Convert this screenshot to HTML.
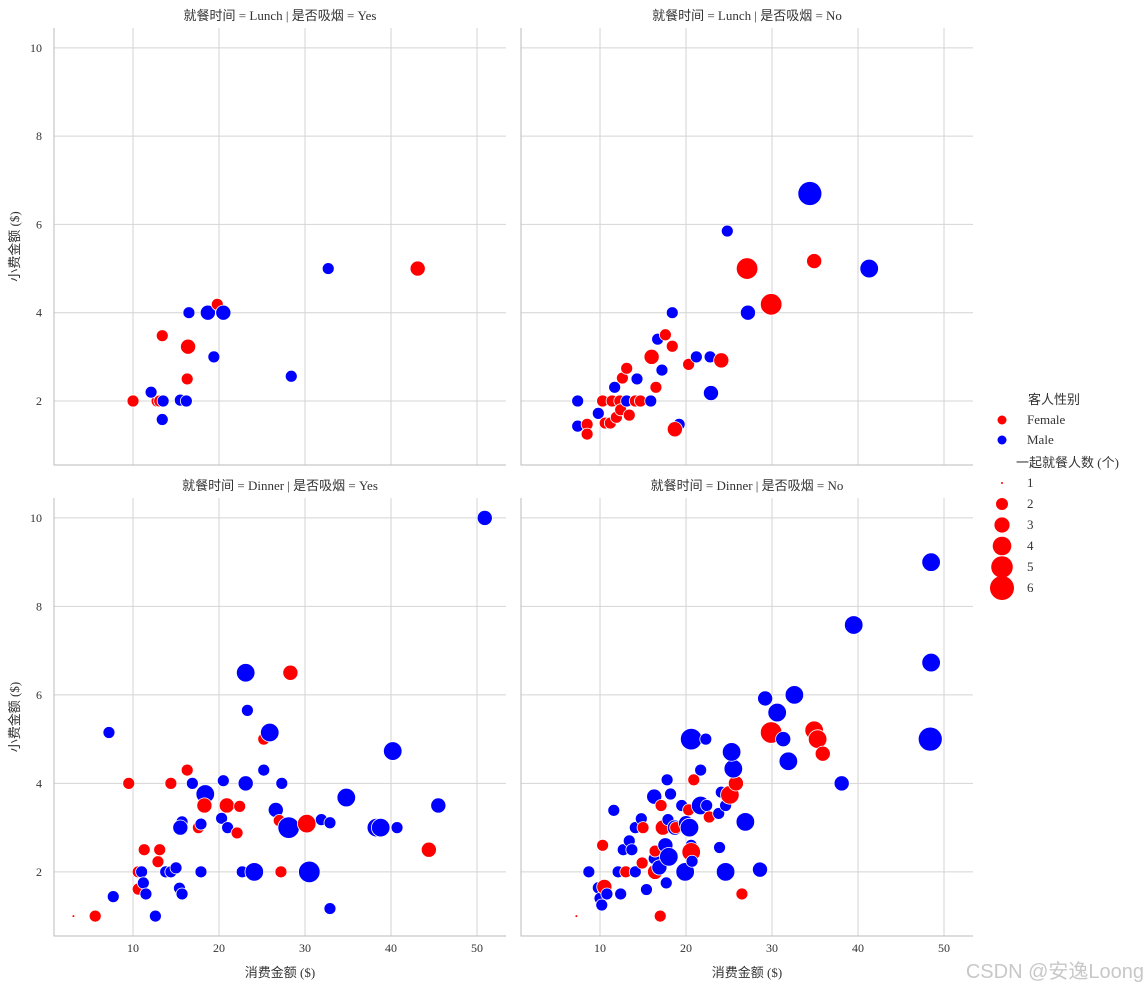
<!DOCTYPE html>
<html><head><meta charset="utf-8"><style>
body{margin:0;background:#fff;}
svg{display:block;font-family:"Liberation Serif","Noto Sans CJK SC",serif;}
.tick{font-size:12px;fill:#333;}
.lab{font-size:13px;fill:#333;}
</style></head><body>
<svg id="chart" width="1148" height="990" viewBox="0 0 1148 990"></svg>
<script>
const xTicks=[10,20,30,40,50];
const yTicks=[2,4,6,8,10];
const sizeLevels=[1,2,3,4,5,6];
const sexLabels=['Female','Male'];
// panel data: bill, tip, size, sex(0=F,1=M)
const lunchYesBill=[10.0,12.8,13.1,13.5,13.4,12.1,13.4,15.5,16.2,16.3,16.4,16.5,18.7,19.8,20.5,19.4,28.4,32.7,43.1];
const lunchYesTip=[2.0,2.0,2.0,2.0,3.48,2.2,1.58,2.02,2.0,2.5,3.23,4.0,4.0,4.19,4.0,3.0,2.56,5.0,5.0];
const lunchYesSize=[2,2,2,2,2,2,2,2,2,2,3,2,3,2,3,2,2,2,3];
const lunchYesSex=[0,0,0,1,0,1,1,1,1,0,0,1,1,0,1,1,1,1,0];
const lunchNoBill=[7.4,7.4,8.5,8.5,9.8,10.3,10.6,11.2,11.4,11.7,11.9,12.3,12.4,12.6,13.1,13.1,13.4,14.3,14.1,14.7,15.9,16.0,16.5,16.7,17.2,17.6,18.4,18.4,19.2,18.7,20.3,21.2,22.8,24.1,22.9,24.8,27.2,27.1,29.9,34.9,34.4,41.3];
const lunchNoTip=[2.0,1.43,1.47,1.25,1.72,2.0,1.5,1.5,2.0,2.31,1.63,2.0,1.8,2.52,2.74,2.0,1.68,2.5,2.0,2.0,2.0,3.0,2.31,3.4,2.7,3.5,3.24,4.0,1.47,1.36,2.83,3.0,3.0,2.92,2.18,5.85,4.0,5.0,4.19,5.17,6.7,5.0];
const lunchNoSize=[2,2,2,2,2,2,2,2,2,2,2,2,2,2,2,2,2,2,2,2,2,3,2,2,2,2,2,2,2,3,2,2,2,3,3,2,3,5,5,3,6,4];
const lunchNoSex=[1,1,0,0,1,0,0,0,0,1,0,0,0,0,0,1,0,1,0,0,1,0,0,1,1,0,0,1,1,0,0,1,1,0,1,1,1,0,0,0,1,1];
const dinnerYesBill=[3.07,5.6,7.2,7.7,9.5,10.6,10.6,11.0,11.2,11.5,11.3,12.9,13.1,12.6,13.8,14.4,15.0,15.4,15.7,15.7,15.5,14.4,16.3,16.9,17.6,17.9,17.9,18.4,18.3,20.3,20.5,21.0,20.9,22.1,22.4,22.7,23.1,23.3,24.1,23.1,25.2,25.2,25.9,26.6,27.0,27.3,27.2,28.3,28.1,30.2,30.5,31.9,32.9,32.9,34.8,38.3,38.8,40.2,40.7,45.5,44.4,50.9];
const dinnerYesTip=[1.0,1.0,5.15,1.44,4.0,2.0,1.61,2.0,1.75,1.5,2.5,2.23,2.5,1.0,2.0,2.0,2.09,1.63,1.5,3.13,3.0,4.0,4.3,4.0,3.0,3.08,2.0,3.76,3.5,3.21,4.06,3.0,3.5,2.88,3.48,2.0,6.5,5.65,2.0,4.0,5.0,4.3,5.15,3.4,3.16,4.0,2.0,6.5,3.0,3.09,2.0,3.18,3.11,1.17,3.68,3.0,3.0,4.73,3.0,3.5,2.5,10.0];
const dinnerYesSize=[1,2,2,2,2,2,2,2,2,2,2,2,2,2,2,2,2,2,2,2,3,2,2,2,2,2,2,4,3,2,2,2,3,2,2,2,4,2,4,3,2,2,4,3,2,2,2,3,5,4,5,2,2,2,4,4,4,4,2,3,3,3];
const dinnerYesSex=[0,0,1,1,0,0,0,1,1,1,0,0,0,1,1,1,1,1,1,1,1,0,0,1,0,1,1,1,0,1,1,1,0,0,0,1,1,1,1,1,0,1,1,1,0,1,0,0,1,0,1,1,1,1,1,1,1,1,1,1,0,1];
const dinnerNoBill=[7.25,8.7,9.8,10.0,10.2,10.3,10.5,10.8,11.6,12.1,12.4,12.7,13.0,13.4,13.7,14.1,14.1,14.9,14.8,15.0,15.4,16.3,16.3,16.4,16.4,16.9,17.1,17.3,17.0,17.6,17.9,17.8,18.2,18.0,17.7,18.7,18.8,19.5,19.9,20.0,20.3,20.6,20.3,20.6,20.4,20.6,20.9,20.7,21.7,21.7,22.3,22.4,22.7,23.8,24.1,23.9,24.6,24.6,25.1,25.8,25.5,25.3,26.5,26.9,28.6,29.2,29.9,30.6,31.3,31.9,32.6,34.9,35.3,35.9,38.1,39.5,48.5,48.5,48.4];
const dinnerNoTip=[1.0,2.0,1.64,1.4,1.25,2.6,1.66,1.5,3.39,2.0,1.5,2.5,2.0,2.7,2.5,3.0,2.0,2.2,3.2,3.0,1.6,3.7,2.3,2.0,2.47,2.1,3.5,3.0,1.0,2.6,3.18,4.08,3.76,2.34,1.75,3.0,3.0,3.5,2.0,3.1,3.4,2.6,3.0,5.0,3.0,2.45,4.08,2.24,3.5,4.3,5.0,3.5,3.24,3.32,3.8,2.55,2.0,3.5,3.74,4.0,4.33,4.71,1.5,3.13,2.05,5.92,5.15,5.6,5.0,4.5,6.0,5.2,5.0,4.67,4.0,7.58,9.0,6.73,5.0];
const dinnerNoSize=[1,2,2,2,2,2,3,2,2,2,2,2,2,2,2,2,2,2,2,2,2,3,2,3,2,3,2,3,2,3,2,2,2,4,2,3,2,2,4,3,2,2,2,5,4,4,2,2,4,2,2,2,2,2,2,2,4,2,4,3,4,4,2,4,3,3,5,4,3,4,4,4,4,3,3,4,4,4,6];
const dinnerNoSex=[0,1,1,1,1,0,0,1,1,1,1,1,0,1,1,1,1,0,1,0,1,1,1,0,0,1,0,0,0,1,1,1,1,1,1,1,0,1,1,1,0,1,0,1,1,0,0,1,1,1,1,1,0,1,1,1,1,1,0,0,1,1,0,1,1,1,0,1,1,1,1,0,0,0,1,1,1,1,1];

const NS='http://www.w3.org/2000/svg';
const svg=document.getElementById('chart');
function mk(tag,attrs,parent){const e=document.createElementNS(NS,tag);for(const k in attrs)e.setAttribute(k,attrs[k]);(parent||svg).appendChild(e);return e;}
const radius={1:1,2:6,3:7.6,4:9.3,5:10.8,6:12};
const colors=['#ff0000','#0000ff'];
const panels=[
 {l:54,r:506,t:28,b:465,title:'就餐时间 = Lunch | 是否吸烟 = Yes',bill:lunchYesBill,tip:lunchYesTip,size:lunchYesSize,sex:lunchYesSex,name:'panel-lunch-smoker',ylab:true,xlab:false,yt:true},
 {l:521,r:973,t:28,b:465,title:'就餐时间 = Lunch | 是否吸烟 = No',bill:lunchNoBill,tip:lunchNoTip,size:lunchNoSize,sex:lunchNoSex,name:'panel-lunch-nonsmoker',ylab:false,xlab:false,yt:false},
 {l:54,r:506,t:498,b:936,title:'就餐时间 = Dinner | 是否吸烟 = Yes',bill:dinnerYesBill,tip:dinnerYesTip,size:dinnerYesSize,sex:dinnerYesSex,name:'panel-dinner-smoker',ylab:true,xlab:true,yt:true},
 {l:521,r:973,t:498,b:936,title:'就餐时间 = Dinner | 是否吸烟 = No',bill:dinnerNoBill,tip:dinnerNoTip,size:dinnerNoSize,sex:dinnerNoSex,name:'panel-dinner-nonsmoker',ylab:false,xlab:true,yt:true}
];
const xMin=0.81,xMax=53.37,yMin=0.55,yMax=10.45;
panels.forEach(p=>{
 const g=mk('g',{});
 
 
 const X=v=>p.l+(v-xMin)/(xMax-xMin)*(p.r-p.l);
 const Y=v=>p.b-(v-yMin)/(yMax-yMin)*(p.b-p.t);
 xTicks.forEach(t=>{
  const ln=mk('line',{x1:X(t),x2:X(t),y1:p.t,y2:p.b,stroke:'#d4d4d4','stroke-width':1},g);
  
  
  if(p.xlab){const tx=mk('text',{x:X(t),y:p.b+16,'text-anchor':'middle',class:'tick'},g);tx.textContent=t;
   }
 });
 yTicks.forEach(t=>{
  const ln=mk('line',{x1:p.l,x2:p.r,y1:Y(t),y2:Y(t),stroke:'#d4d4d4','stroke-width':1},g);
  
  
  if(p.ylab){const tx=mk('text',{x:p.l-12,y:Y(t)+4,'text-anchor':'end',class:'tick'},g);tx.textContent=t;
   }
 });
 const sp=mk('path',{d:`M${p.l} ${p.t}V${p.b}H${p.r}`,fill:'none',stroke:'#bbb','stroke-width':1},g);
 
 const ti=mk('text',{x:(p.l+p.r)/2,y:p.t-8,'text-anchor':'middle',class:'lab'},g);ti.textContent=p.title;
 
 if(p.ylab){const yl=mk('text',{x:0,y:0,'text-anchor':'middle',class:'lab',transform:`translate(19,${(p.t+p.b)/2}) rotate(-90)`},g);yl.textContent='小费金额 ($)';
  }
 if(p.xlab){const xl=mk('text',{x:(p.l+p.r)/2,y:p.b+41,'text-anchor':'middle',class:'lab'},g);xl.textContent='消费金额 ($)';
  }
 p.bill.forEach((b,i)=>{
  const c=mk('circle',{cx:X(b),cy:Y(p.tip[i]),r:radius[p.size[i]],fill:colors[p.sex[i]],stroke:'#fff','stroke-width':p.size[i]>1?0.8:0},g);
  
  
 });
});
// legend
const lg=mk('g',{});


const t1=mk('text',{x:1028,y:404,class:'lab'},lg);t1.textContent='客人性别';

sexLabels.forEach((s,i)=>{
 const y=420+i*20;
 const c=mk('circle',{cx:1002,cy:y,r:4.5,fill:colors[i]},lg);
 
 const t=mk('text',{x:1027,y:y+4,class:'lab'},lg);t.textContent=s;
 
});
const t2=mk('text',{x:1016,y:467,class:'lab'},lg);t2.textContent='一起就餐人数 (个)';

const ly=[483,504,525,546,567,588];
sizeLevels.forEach((s,i)=>{
 const c=mk('circle',{cx:1002,cy:ly[i],r:radius[s],fill:'#ff0000'},lg);
 
 const t=mk('text',{x:1027,y:ly[i]+4,class:'lab'},lg);t.textContent=s;
 
});
const wm=mk('text',{x:1144,y:978,'text-anchor':'end','font-size':'20px',fill:'#c8c8c8','font-family':'"Liberation Sans","Noto Sans CJK SC",sans-serif'});
wm.textContent='CSDN @安逸Loong';

</script>
</body></html>
